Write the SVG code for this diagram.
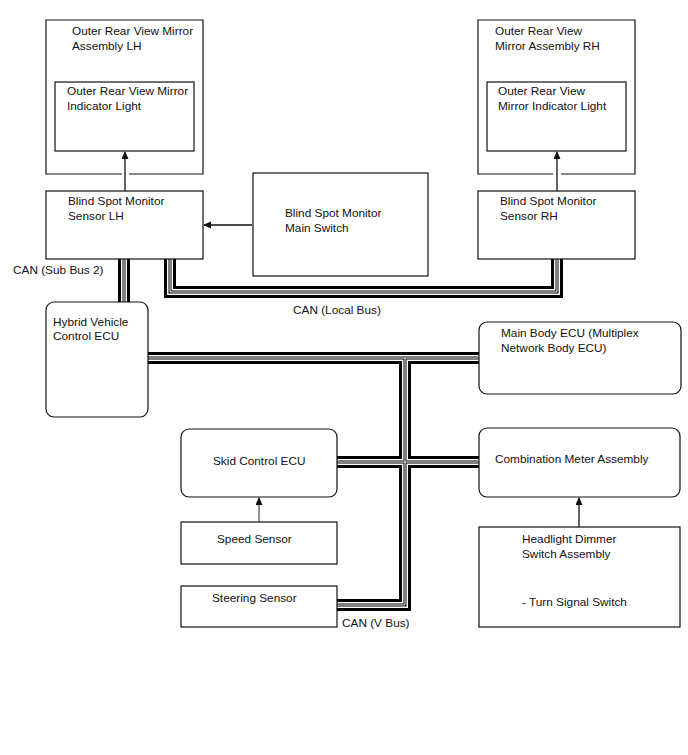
<svg xmlns="http://www.w3.org/2000/svg" width="688" height="755" viewBox="0 0 688 755">
<style>
  .box{fill:#fff;stroke:#111;stroke-width:1.2}
  .obox{fill:none;stroke:#111;stroke-width:1.2}
  text{font-family:"Liberation Sans",Arial,sans-serif;font-size:11.8px;fill:#111}
  .arr{fill:none;stroke:#111;stroke-width:1.3;marker-end:url(#ah)}
  .arrg{fill:none;stroke:#555;stroke-width:1.3;marker-end:url(#ah)}
  .b1{fill:none;stroke:#000;stroke-width:12;stroke-linejoin:miter}
  .b2{fill:none;stroke:#fff;stroke-width:6;stroke-linejoin:miter}
  .b3{fill:none;stroke:#000;stroke-width:3;stroke-linejoin:miter}
  .b4{fill:none;stroke:#fff;stroke-width:1;stroke-linejoin:miter}
</style>
<defs>
  <marker id="ah" markerWidth="8" markerHeight="8" refX="7" refY="3.5" orient="auto" markerUnits="userSpaceOnUse">
    <path d="M0,0 L8,3.5 L0,7 Z" fill="#111"/>
  </marker>
  <path id="busSub" d="M124,259 V302"/>
  <path id="busLocal" d="M170,259 V292 H557 V259"/>
  <path id="busMain" d="M148,358 H479"/>
  <path id="busMid" d="M337,462 H479"/>
  <path id="busV" d="M405,358 V605 H337"/>
</defs>
<rect width="688" height="755" fill="#fff"/>

<g id="connectors">
  <g class="b1"><use href="#busSub"/><use href="#busLocal"/><use href="#busMain"/><use href="#busMid"/><use href="#busV"/></g>
  <g class="b2"><use href="#busSub"/><use href="#busLocal"/><use href="#busMain"/><use href="#busMid"/><use href="#busV"/></g>
  <g class="b3"><use href="#busSub"/><use href="#busLocal"/><use href="#busMain"/><use href="#busMid"/><use href="#busV"/></g>
  <g class="b4"><use href="#busSub"/><use href="#busLocal"/><use href="#busMain"/><use href="#busMid"/><use href="#busV"/></g>
  <path class="arr" d="M125,191 V152"/>
  <path class="arr" d="M557,191 V152"/>
  <path class="arr" d="M252,225 H204"/>
  <path class="arrg" d="M259,522 V498"/>
  <path class="arr" d="M579,527 V498"/>
  <text x="13" y="274">CAN (Sub Bus 2)</text>
  <text x="293" y="314">CAN (Local Bus)</text>
  <text x="342" y="627">CAN (V Bus)</text>
</g>

<g id="mirrorLH">
  <path class="obox" d="M122,174 H46 V20 H203 V174 H129"/>
  <text x="72" y="35">Outer Rear View Mirror</text>
  <text x="72" y="50">Assembly LH</text>
</g>
<g id="indicatorLH">
  <rect class="box" x="55" y="82" width="139" height="69"/>
  <text x="67" y="95">Outer Rear View Mirror</text>
  <text x="67" y="110">Indicator Light</text>
</g>
<g id="sensorLH">
  <rect class="box" x="46" y="191" width="157" height="68"/>
  <text x="68" y="205">Blind Spot Monitor</text>
  <text x="68" y="220">Sensor LH</text>
</g>
<g id="mainSwitch">
  <rect class="box" x="253" y="173" width="175" height="103"/>
  <text x="285" y="217">Blind Spot Monitor</text>
  <text x="285" y="232">Main Switch</text>
</g>
<g id="mirrorRH">
  <path class="obox" d="M553,174 H478 V20 H635 V174 H561"/>
  <text x="495" y="35">Outer Rear View</text>
  <text x="495" y="50">Mirror Assembly RH</text>
</g>
<g id="indicatorRH">
  <rect class="box" x="487" y="82" width="139" height="69"/>
  <text x="498" y="95">Outer Rear View</text>
  <text x="498" y="110">Mirror Indicator Light</text>
</g>
<g id="sensorRH">
  <rect class="box" x="478" y="191" width="157" height="68"/>
  <text x="500" y="205">Blind Spot Monitor</text>
  <text x="500" y="220">Sensor RH</text>
</g>
<g id="hvEcu">
  <rect class="box" x="46" y="302" width="102" height="115" rx="8"/>
  <text x="53" y="326">Hybrid Vehicle</text>
  <text x="53" y="340">Control ECU</text>
</g>
<g id="mainBodyEcu">
  <rect class="box" x="479" y="322" width="202" height="72" rx="8"/>
  <text x="501" y="337">Main Body ECU (Multiplex</text>
  <text x="501" y="352">Network Body ECU)</text>
</g>
<g id="skidEcu">
  <rect class="box" x="181" y="429" width="156" height="68" rx="8"/>
  <text x="213" y="465">Skid Control ECU</text>
</g>
<g id="combMeter">
  <rect class="box" x="479" y="428" width="201" height="69" rx="8"/>
  <text x="495" y="463">Combination Meter Assembly</text>
</g>
<g id="speedSensor">
  <rect class="box" x="181" y="522" width="156" height="42"/>
  <text x="217" y="543">Speed Sensor</text>
</g>
<g id="steeringSensor">
  <rect class="box" x="181" y="586" width="156" height="41"/>
  <text x="212" y="602">Steering Sensor</text>
</g>
<g id="headlightSwitch">
  <rect class="box" x="479" y="527" width="201" height="100"/>
  <text x="522" y="543">Headlight Dimmer</text>
  <text x="522" y="558">Switch Assembly</text>
  <text x="522" y="606">- Turn Signal Switch</text>
</g>
</svg>
